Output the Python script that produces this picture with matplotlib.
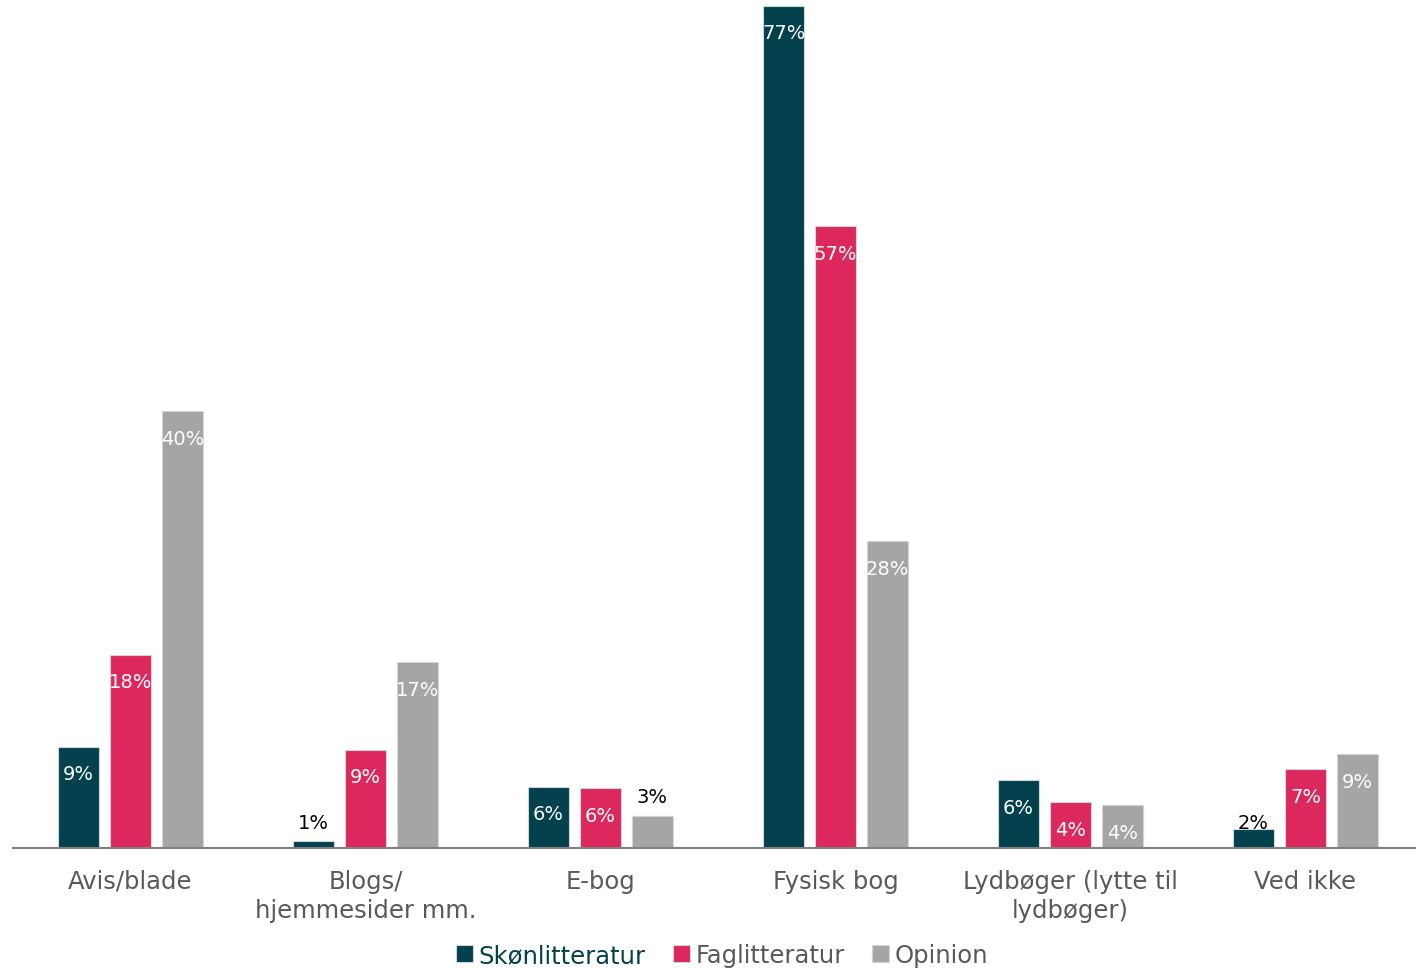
import matplotlib
matplotlib.use('Agg')
from matplotlib import pyplot as plt
import numpy as np

categories = ['Avis/blade', 'Blogs/\nhjemmesider mm.', 'E-bog', 'Fysisk bog',
              'Lydbøger (lytte til\nlydbøger)', 'Ved ikke']
series = ['Skønlitteratur', 'Faglitteratur', 'Opinion']
skon = [9.3, 0.6, 5.6, 77.2, 6.2, 1.7]
fag = [17.7, 9.0, 5.5, 57.0, 4.2, 7.2]
opinion = [40.0, 17.0, 2.9, 28.1, 3.9, 8.6]
labels = [['9%', '1%', '6%', '77%', '6%', '2%'],
          ['18%', '9%', '6%', '57%', '4%', '7%'],
          ['40%', '17%', '3%', '28%', '4%', '9%']]

colors = ['#02414D', '#DC285C', '#A5A5A5']
text_gray = '#595959'

plt.rcParams['font.family'] = ['DejaVu Sans']

fig = plt.figure(figsize=(14.16, 9.70), dpi=100)
ax = fig.add_axes([13 / 1416, 121 / 970, 1403 / 1416, 849 / 970])

x = np.arange(len(categories))
width = 0.175
offset = 0.221
for k, vals in enumerate([skon, fag, opinion]):
    xs = x + (k - 1) * offset
    ax.bar(xs, vals, width, color=colors[k], edgecolor='#d0d6d8', linewidth=0.8,
           label=series[k], zorder=2)
    for xi, v, lab in zip(xs, vals, labels[k]):
        if v < 3.5:
            # small bars: label in black just above the bar
            dy = 14 if v < 1.5 or v > 2.5 else 5
            ax.annotate(lab, (xi, v), xytext=(0, dy), textcoords='offset points',
                        ha='center', va='center', fontsize=14, color='black', zorder=4)
        else:
            ax.annotate(lab, (xi, v), xytext=(0, -19.5), textcoords='offset points',
                        ha='center', va='center', fontsize=14, color='white')

ax.set_xlim(-0.5, -0.5 + 1403 / 235)
ax.set_ylim(0, 77.8)
ax.set_xticks(x)
ax.set_xticklabels(categories, fontsize=17.5, color=text_gray, linespacing=1.25)
ax.tick_params(axis='x', length=0, pad=15)
ax.set_yticks([])
for s in ['top', 'right', 'left']:
    ax.spines[s].set_visible(False)
ax.spines['bottom'].set_color('#808080')
ax.spines['bottom'].set_linewidth(1.5)
ax.spines['bottom'].set_zorder(3)

leg = fig.legend(loc='center', bbox_to_anchor=(722 / 1416, 1 - 956 / 970), ncol=3,
                 frameon=False, fontsize=17.5, handlelength=0.7, handleheight=0.7,
                 handletextpad=0.25, columnspacing=1.1)
for t, c in zip(leg.get_texts(), [colors[0], text_gray, text_gray]):
    t.set_color(c)

fig.savefig('out.png', dpi=100)
